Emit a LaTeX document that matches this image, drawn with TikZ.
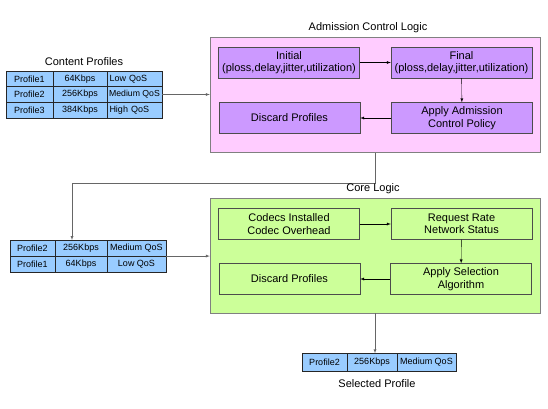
\documentclass[tikz,border=0pt]{standalone}
\usepackage{fontspec}
\setmainfont{Liberation Sans}
\usetikzlibrary{positioning,shapes,arrows}
\definecolor{tblblue}{HTML}{99CCFF}
\definecolor{admpink}{HTML}{FFCCFF}
\definecolor{admviolet}{HTML}{CC99FF}
\definecolor{coregreen}{HTML}{CCFF99}
\tikzstyle{cell} = [rectangle, draw=black!85, fill=tblblue, minimum height=15.7, inner sep=0pt, text centered, font=\fontsize{9}{10}\selectfont]
\tikzstyle{zone} = [rectangle, draw=black!50, minimum width=330, minimum height=115, inner sep=0pt]
\tikzstyle{stepbox} = [rectangle, draw=black!70, minimum width=141, minimum height=31, inner sep=1pt, align=center, font=\fontsize{11}{12.5}\selectfont]
\tikzstyle{title} = [font=\fontsize{11}{12.5}\selectfont]
\tikzstyle{arrow} = [->,>=latex]
\tikzstyle{link} = [->,>=latex, draw=black!60]

\begin{document}
\begin{tikzpicture}[x=1pt,y=-1pt]
                    \useasboundingbox (0,0) rectangle (548,408);
                    % content profiles
                    \node[title] (ctitle) at (84,62) {Content Profiles};
                    \node[cell, minimum width=47] (p1a) at (29.5,78.8) {Profile1};
                    \node[cell, minimum width=54] (p1b) at (80,78.8) {64Kbps};
                    \node[cell, minimum width=55, text width=50, align=left] (p1c) at (134.5,78.8) {Low QoS};
                    \node[cell, minimum width=47] (p2a) at (29.5,94.5) {Profile2};
                    \node[cell, minimum width=54] (p2b) at (80,94.5) {256Kbps};
                    \node[cell, minimum width=55, font=\fontsize{8.7}{10}\selectfont] (p2c) at (134.5,94.5) {Medium QoS};
                    \node[cell, minimum width=47] (p3a) at (29.5,110.2) {Profile3};
                    \node[cell, minimum width=54] (p3b) at (80,110.2) {384Kbps};
                    \node[cell, minimum width=55, text width=50, align=left] (p3c) at (134.5,110.2) {High QoS};
                    % admission control logic
                    \node[zone, fill=admpink] (adm) at (375,95) {};
                    \node[title] (atitle) at (368,28) {Admission Control Logic};
                    \node[stepbox, fill=admviolet] (init) at (289,62.5) {Initial\\(ploss,delay,jitter,utilization)};
                    \node[stepbox, fill=admviolet] (final) at (461.5,62.5) {Final\\(ploss,delay,jitter,utilization)};
                    \node[stepbox, fill=admviolet] (apply) at (462,118) {Apply Admission\\Control Policy};
                    \node[stepbox, fill=admviolet] (adrop) at (289.5,118) {Discard Profiles};
                    \draw[arrow] (init) -- (final);
                    \draw[arrow] (final) -- (apply);
                    \draw[arrow] (apply) -- (adrop);
                    \draw[link] (p2c.east) -- (adm.west |- p2c.east);
                    % filtered profiles
                    \node[cell, minimum width=45] (q1a) at (32.5,248) {Profile2};
                    \node[cell, minimum width=52] (q1b) at (81,248) {256Kbps};
                    \node[cell, minimum width=59] (q1c) at (136.5,248) {Medium QoS};
                    \node[cell, minimum width=45] (q2a) at (32.5,264) {Profile1};
                    \node[cell, minimum width=52] (q2b) at (81,264) {64Kbps};
                    \node[cell, minimum width=59] (q2c) at (136.5,264) {Low QoS};
                    \coordinate (qin) at (72,240);
                    \draw[link] (adm.south) -- ++(0,30) -| (qin);
                    % core logic
                    \node[zone, fill=coregreen] (core) at (375,255.5) {};
                    \node[title] (ktitle) at (373,189) {Core Logic};
                    \node[stepbox, fill=coregreen] (codec) at (289,224) {Codecs Installed\\Codec Overhead};
                    \node[stepbox, fill=coregreen] (rate) at (461.5,224) {Request Rate\\Network Status};
                    \node[stepbox, fill=coregreen] (select) at (461,279) {Apply Selection\\Algorithm};
                    \node[stepbox, fill=coregreen] (kdrop) at (289.5,279) {Discard Profiles};
                    \draw[arrow] (codec) -- (rate);
                    \draw[arrow] (rate) -- (select);
                    \draw[arrow] (select) -- (kdrop);
                    \draw[link] (q1c.south east) -- (core.west |- q1c.south east);
                    % selected profile
                    \node[cell, minimum width=45, minimum height=18] (s1a) at (324.5,362.5) {Profile2};
                    \node[cell, minimum width=50, minimum height=18] (s1b) at (372,362.5) {256Kbps};
                    \node[cell, minimum width=59, minimum height=18] (s1c) at (426.5,362.5) {Medium QoS};
                    \node[title] (stitle) at (377,384) {Selected Profile};
                    \draw[link] (core.south) -- (core.south |- s1b.north);
                \end{tikzpicture}
\end{document}
